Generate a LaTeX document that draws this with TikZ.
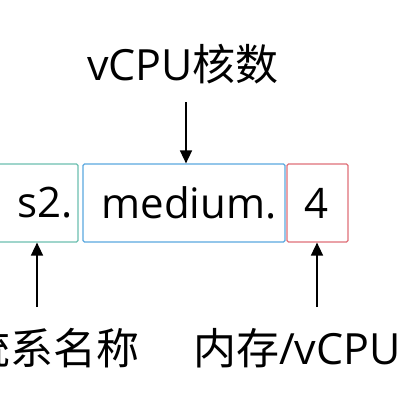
\documentclass[tikz,border=0pt]{standalone}
\usepackage{fontspec}
\setmainfont{Open Sans}
\newfontfamily\cjk{Noto Sans CJK SC}
\usetikzlibrary{arrows.meta}
\definecolor{tealc}{HTML}{6CC0B0}
\definecolor{bluec}{HTML}{5AA8E0}
\definecolor{redc}{HTML}{E07078}
\tikzset{
  box/.style={draw, line width=1.2pt, rounded corners=1.5pt, inner sep=0pt},
  txt/.style={inner sep=0pt, font=\fontsize{42}{48}\selectfont},
  lbl/.style={inner sep=0pt, font=\fontsize{43}{48}\selectfont},
  arr/.style={line width=1.6pt, -{Triangle[length=13pt,width=12pt]}}
}
\begin{document}
\begin{tikzpicture}[x=1pt,y=-1pt]
\useasboundingbox (0,0) rectangle (412,413);
\clip (0,0) rectangle (412,413);
\fill[white] (0,0) rectangle (412,413);
% boxes
\node[box, draw=tealc, minimum width=84pt, minimum height=78pt] (b1) at (36,203) {};
\node[box, draw=bluec, minimum width=202pt, minimum height=78pt] (b2) at (184,203) {};
\node[box, draw=redc, minimum width=61pt, minimum height=78pt] (b3) at (317.5,203) {};
% box texts
\node[txt] (t1) at (45,203) {s2.};
\node[txt] (t2) at (189,203) {medium.};
\node[txt] (t3) at (317,203) {4};
% labels
\node[lbl] (top) at (183,64) {vCPU{\cjk 核数}};
\node[lbl, anchor=east] (bl) at (140,348) {\cjk 统系名称};
\node[lbl, anchor=west] (br) at (193,348) {{\cjk 内存}/vCPU};
% arrow anchors
\coordinate (a1s) at (186,102);
\coordinate (a2s) at (37,307);
\coordinate (a3s) at (317,307);
\draw[arr] (a1s) -- (a1s |- b2.north);
\draw[arr] (a2s) -- (a2s |- b1.south);
\draw[arr] (a3s) -- (a3s |- b3.south);
\end{tikzpicture}
\end{document}
